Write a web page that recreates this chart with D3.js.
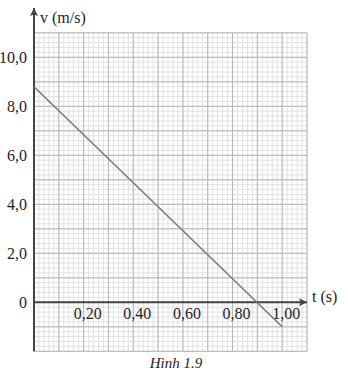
<!DOCTYPE html>
<html>
<head>
<meta charset="utf-8">
<script src="https://d3js.org/d3.v7.min.js"></script>
<style>
  body { margin: 0; background: #fff; }
  text { font-family: "Liberation Serif", "DejaVu Serif", serif; fill: #1e1e1e; }
</style>
</head>
<body>
<script>
// chart data
var tValues = [0, 1.0];
var vValues = [8.8, -1.0];
var tTicks = [0.2, 0.4, 0.6, 0.8, 1.0];
var tTickLabels = ["0,20", "0,40", "0,60", "0,80", "1,00"];
var vTicks = [0, 2, 4, 6, 8, 10];
var vTickLabels = ["0", "2,0", "4,0", "6,0", "8,0", "10,0"];

var width = 348, height = 384;

var svg = d3.select("body").append("svg")
  .attr("width", width)
  .attr("height", height);

var x = d3.scaleLinear().domain([0, 1.1]).range([34, 307]);
var y = d3.scaleLinear().domain([-2, 11]).range([351.3, 32.8]);

// graph paper
var grid = svg.append("g");
var minorT = d3.range(0, 56).map(function(i){ return i * 0.02; });
var minorV = d3.range(0, 66).map(function(i){ return -2 + i * 0.2; });

grid.selectAll(".mt").data(minorT).enter().append("line")
  .attr("x1", function(d){ return x(d); }).attr("x2", function(d){ return x(d); })
  .attr("y1", y(-2)).attr("y2", y(11))
  .attr("stroke", "#e2e2e2").attr("stroke-width", 1);
grid.selectAll(".mv").data(minorV).enter().append("line")
  .attr("y1", function(d){ return y(d); }).attr("y2", function(d){ return y(d); })
  .attr("x1", x(0)).attr("x2", x(1.1))
  .attr("stroke", "#e2e2e2").attr("stroke-width", 1);

var majorT = d3.range(1, 12).map(function(i){ return i * 0.1; });
var majorV = d3.range(-2, 12);
grid.selectAll(".Mt").data(majorT).enter().append("line")
  .attr("x1", function(d){ return x(d); }).attr("x2", function(d){ return x(d); })
  .attr("y1", y(-2)).attr("y2", y(11))
  .attr("stroke", "#b6b6b6").attr("stroke-width", 1);
grid.selectAll(".Mv").data(majorV).enter().append("line")
  .attr("y1", function(d){ return y(d); }).attr("y2", function(d){ return y(d); })
  .attr("x1", x(0)).attr("x2", x(1.1))
  .attr("stroke", "#b6b6b6").attr("stroke-width", 1);

// arrow heads
var defs = svg.append("defs");
defs.append("marker")
  .attr("id", "arr")
  .attr("viewBox", "0 0 10 10")
  .attr("refX", 10).attr("refY", 5)
  .attr("markerWidth", 5).attr("markerHeight", 4)
  .attr("markerUnits", "strokeWidth")
  .attr("orient", "auto")
  .append("path")
  .attr("d", "M0,0 L10,5 L0,10 L2,5 Z")
  .attr("fill", "#444");

// axes
svg.append("line")
  .attr("x1", x(0)).attr("x2", x(0))
  .attr("y1", y(-2)).attr("y2", 8)
  .attr("stroke", "#444").attr("stroke-width", 2)
  .attr("marker-end", "url(#arr)");
svg.append("line")
  .attr("x1", x(0)).attr("x2", x(1.1))
  .attr("y1", y(0)).attr("y2", y(0))
  .attr("stroke", "#444").attr("stroke-width", 2)
  .attr("marker-end", "url(#arr)");

// tick labels
svg.selectAll(".yl").data(vTicks).enter().append("text")
  .attr("x", 27)
  .attr("y", function(d){ return y(d); })
  .attr("dy", "0.35em")
  .attr("text-anchor", "end")
  .style("font-size", "16px")
  .text(function(d, i){ return vTickLabels[i]; });

svg.selectAll(".xl").data(tTicks).enter().append("text")
  .attr("x", function(d){ return x(d) + 4; })
  .attr("y", y(0) + 17)
  .attr("text-anchor", "middle")
  .style("font-size", "16px")
  .text(function(d, i){ return tTickLabels[i]; });

// axis titles
svg.append("text").attr("x", 40).attr("y", 23)
  .style("font-size", "16px").text("v (m/s)");
svg.append("text").attr("x", 312).attr("y", 302)
  .style("font-size", "16px").text("t (s)");

// the v(t) line
var line = d3.line()
  .x(function(d){ return x(d[0]); })
  .y(function(d){ return y(d[1]); });
svg.append("path")
  .datum(tValues.map(function(t, i){ return [t, vValues[i]]; }))
  .attr("d", line)
  .attr("fill", "none")
  .attr("stroke", "#7a7a7a")
  .attr("stroke-width", 1.6);

// caption
svg.append("text").attr("x", 176).attr("y", 368)
  .attr("text-anchor", "middle")
  .style("font-size", "15px").style("font-style", "italic")
  .text("Hình 1.9");
</script>
</body>
</html>
